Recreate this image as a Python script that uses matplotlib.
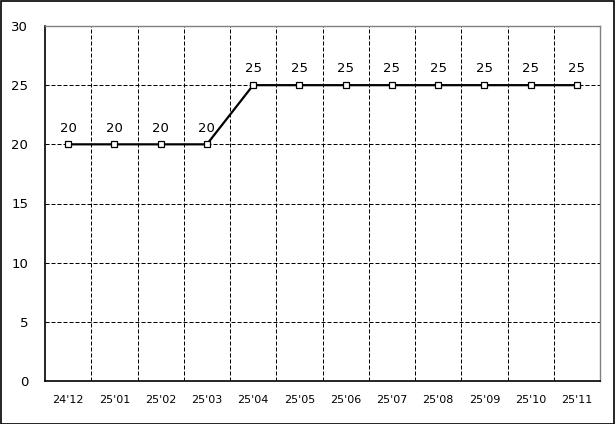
import matplotlib
matplotlib.use("Agg")
import matplotlib.pyplot as plt
from matplotlib.patches import Rectangle

categories = ["24'12", "25'01", "25'02", "25'03", "25'04", "25'05", "25'06",
              "25'07", "25'08", "25'09", "25'10", "25'11"]
values = [20, 20, 20, 20, 25, 25, 25, 25, 25, 25, 25, 25]
yticks = [0, 5, 10, 15, 20, 25, 30]

W, H = 615, 424
fig = plt.figure(figsize=(W / 100, H / 100), dpi=100)
fig.patch.set_facecolor("white")
fig.patches.append(Rectangle((0.5 / W, 0.5 / H), (W - 1.5) / W, (H - 1.5) / H,
                             transform=fig.transFigure, fill=False,
                             edgecolor="black", linewidth=1.2))

ax = fig.add_axes([45 / W, (H - 381) / H, 555 / W, 355 / H])
x = list(range(len(categories)))
ax.plot(x, values, color="black", linewidth=1.6, marker="s", markersize=3.8,
        markerfacecolor="white", markeredgecolor="black", markeredgewidth=0.9,
        zorder=3)
for xi, v in zip(x, values):
    ax.annotate(str(v), (xi, v), xytext=(0, 7), textcoords="offset points",
                ha="center", va="bottom", fontsize=9.5, color="black")

ax.set_xlim(-0.5, len(categories) - 0.5)
ax.set_ylim(0, 30)
ax.set_xticks(x)
ax.set_xticklabels(categories, fontsize=8)
ax.set_yticks(yticks)
ax.set_yticklabels([str(t) for t in yticks], fontsize=9.5)
ax.tick_params(axis="both", length=0)
ax.tick_params(axis="x", pad=10)
ax.tick_params(axis="y", pad=12)

for b in [i + 0.5 for i in range(len(categories) - 1)]:
    ax.axvline(b, color="black", linewidth=0.72, linestyle=(0, (4, 2)), zorder=1)
for t in yticks[1:-1]:
    ax.axhline(t, color="black", linewidth=0.72, linestyle=(0, (4, 2)), zorder=1)

ax.spines["left"].set_color("black")
ax.spines["bottom"].set_color("black")
ax.spines["left"].set_linewidth(1.2)
ax.spines["bottom"].set_linewidth(1.2)
ax.spines["top"].set_color("#808080")
ax.spines["right"].set_color("#808080")
ax.spines["top"].set_linewidth(1.0)
ax.spines["right"].set_linewidth(1.0)

fig.savefig("out.png", dpi=100)
